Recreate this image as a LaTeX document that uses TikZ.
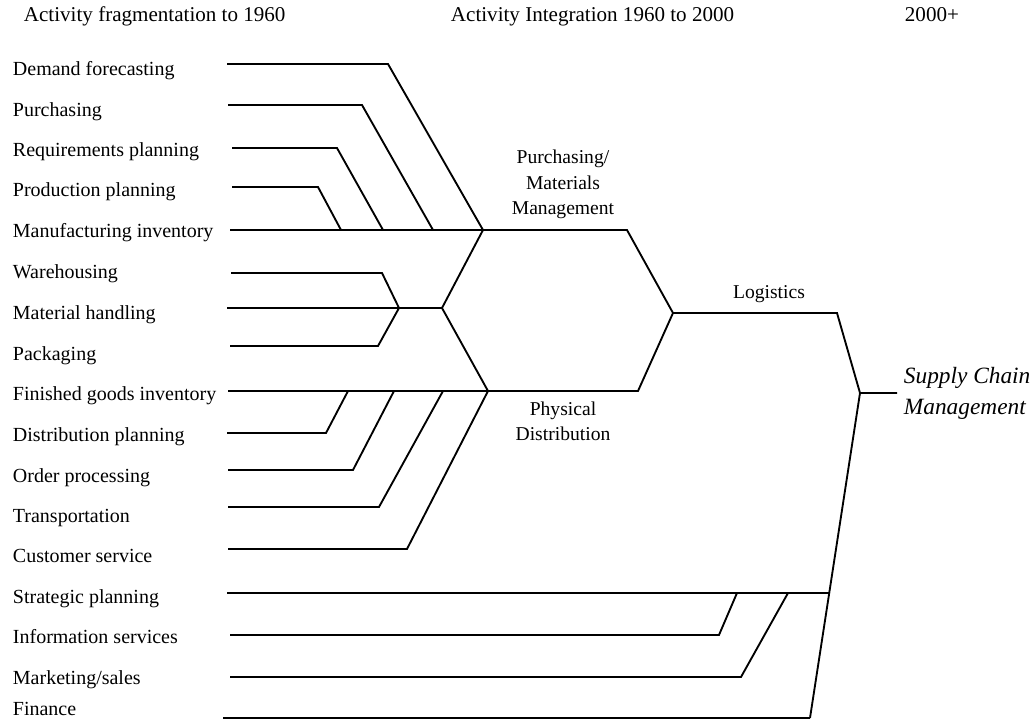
\documentclass[tikz,border=0pt]{standalone}
\usepackage{fontspec}
\setmainfont{Liberation Serif}
\begin{document}
\begin{tikzpicture}[x=0.75pt,y=-0.75pt,
  line width=1.4pt, line join=miter,
  lbl/.style={anchor=base west, inner sep=0pt, font=\fontsize{15}{18}\selectfont},
  hdr/.style={anchor=base west, inner sep=0pt, font=\fontsize{15.8}{19}\selectfont},
  mid/.style={anchor=base, inner sep=0pt, font=\fontsize{14.7}{18}\selectfont},
  scm/.style={anchor=base west, inner sep=0pt, font=\fontsize{17.5}{21}\selectfont\itshape}]
\useasboundingbox (0,0) rectangle (1034,720);

% headers
\node[hdr] (h1) at (23,22) {Activity fragmentation to 1960};
\node[hdr] (h2) at (450,22) {Activity Integration 1960 to 2000};
\node[hdr] (h3) at (904,22) {2000+};

% activity labels
\node[lbl] (l1)  at (12,76)  {Demand forecasting};
\node[lbl] (l2)  at (12,117) {Purchasing};
\node[lbl] (l3)  at (12,157) {Requirements planning};
\node[lbl] (l4)  at (12,197) {Production planning};
\node[lbl] (l5)  at (12,238) {Manufacturing inventory};
\node[lbl] (l6)  at (12,278) {Warehousing};
\node[lbl] (l7)  at (12,319) {Material handling};
\node[lbl] (l8)  at (12,360) {Packaging};
\node[lbl] (l9)  at (12,400) {Finished goods inventory};
\node[lbl] (l10) at (12,441) {Distribution planning};
\node[lbl] (l11) at (12,482) {Order processing};
\node[lbl] (l12) at (12,522) {Transportation};
\node[lbl] (l13) at (12,562) {Customer service};
\node[lbl] (l14) at (12,603) {Strategic planning};
\node[lbl] (l15) at (12,643) {Information services};
\node[lbl] (l16) at (12,684) {Marketing/sales};
\node[lbl] (l17) at (12,715) {Finance};

% integration labels
\node[mid] (pm1) at (563,164) {Purchasing/};
\node[mid] (pm2) at (563,190) {Materials};
\node[mid] (pm3) at (563,215) {Management};
\node[mid] (pd1) at (563,415) {Physical};
\node[mid] (pd2) at (563,440) {Distribution};
\node[mid] (lg)  at (769,298) {Logistics};
\node[scm] (sc1) at (903,383) {Supply Chain};
\node[scm] (sc2) at (903,414) {Management};

% line starts
\coordinate (s1)  at (227,64);
\coordinate (s2)  at (228,105);
\coordinate (s3)  at (232,148);
\coordinate (s4)  at (232,187);
\coordinate (s5)  at (230,230);
\coordinate (s6)  at (231,273);
\coordinate (s7)  at (227,308);
\coordinate (s8)  at (230,346);
\coordinate (s9)  at (228,391);
\coordinate (s10) at (227,433);
\coordinate (s11) at (228,470);
\coordinate (s12) at (228,507);
\coordinate (s13) at (228,549);
\coordinate (s14) at (227,593);
\coordinate (s15) at (230,635);
\coordinate (s16) at (230,677);
\coordinate (s17) at (223,718);

% junctions
\coordinate (PM) at (483,230);
\coordinate (MJ) at (399,308);
\coordinate (MM) at (442,308);
\coordinate (PD) at (488,391);
\coordinate (LG) at (673,313);
\coordinate (SC) at (860,393);
\coordinate (SE) at (897,393);
\coordinate (FE) at (810,718);
\coordinate (SP) at (829,593);

% purchasing / materials management
\draw (s1) -- (388,64) -- (PM);
\draw (s2) -- (362,105) -- (433,230);
\draw (s3) -- (337,148) -- (383,230);
\draw (s4) -- (318,187) -- (341,230);
\draw (s5) -- (PM) -- (627,230) -- (LG);

% material handling group
\draw (s6) -- (382,273) -- (MJ);
\draw (s8) -- (378,346) -- (MJ);
\draw (s7) -- (MM);
\draw (PM) -- (MM) -- (PD);

% physical distribution
\draw (s9) -- (PD) -- (638,391) -- (LG);
\draw (s10) -- (326,433) -- (348,391);
\draw (s11) -- (353,470) -- (394,391);
\draw (s12) -- (379,507) -- (443,391);
\draw (s13) -- (407,549) -- (PD);

% logistics and supply chain management
\draw (LG) -- (837,313) -- (SC) -- (SE);
\draw (SC) -- (FE);
\draw (s14) -- (SP);
\draw (s15) -- (719,635) -- (737,593);
\draw (s16) -- (741,677) -- (788,593);
\draw (s17) -- (FE);
\end{tikzpicture}
\end{document}
